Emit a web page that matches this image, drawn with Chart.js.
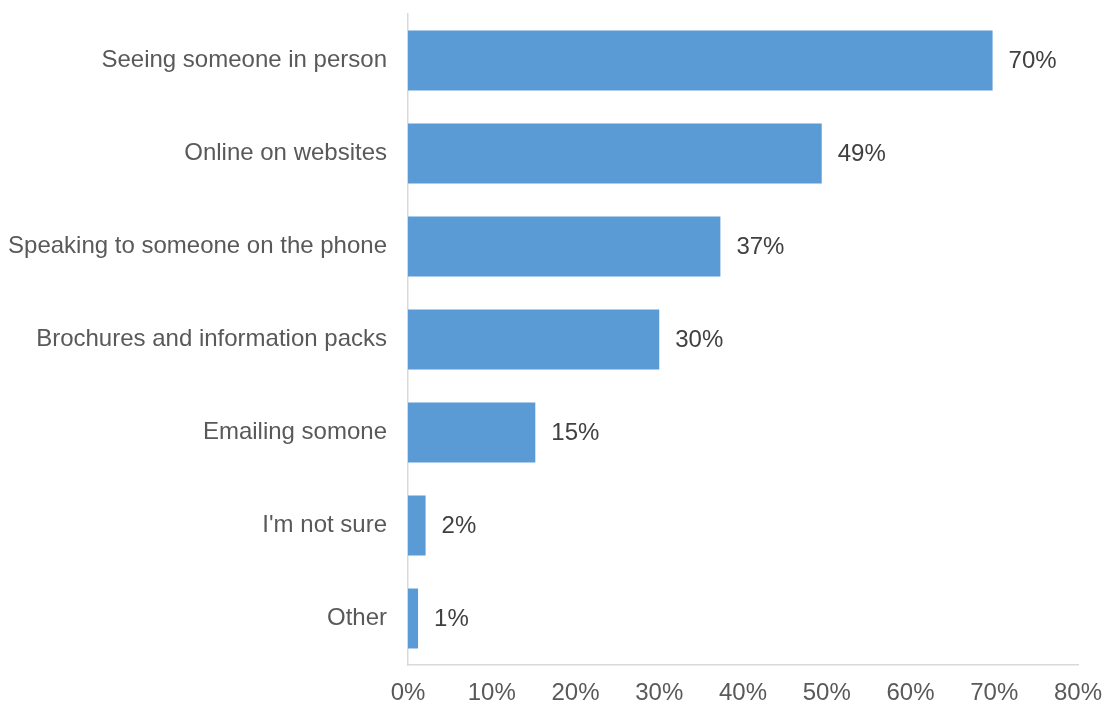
<!DOCTYPE html>
<html>
<head>
<meta charset="utf-8">
<script src="https://cdn.jsdelivr.net/npm/chart.js@4/dist/chart.umd.min.js"></script>
<style>
  body { margin: 0; background: #fff; }
  #wrap { width: 1104px; height: 704px; }
</style>
</head>
<body>
<div id="wrap"><canvas id="chart" width="1104" height="704"></canvas></div>
<script>
const categories = [
  'Seeing someone in person',
  'Online on websites',
  'Speaking to someone on the phone',
  'Brochures and information packs',
  'Emailing somone',
  "I'm not sure",
  'Other'
];
const shares = [69.8, 49.4, 37.3, 30, 15.2, 2.1, 1.2];
const shareLabels = ['70%', '49%', '37%', '30%', '15%', '2%', '1%'];
const xTicks = [0, 10, 20, 30, 40, 50, 60, 70, 80];

// draw the value label just right of each bar
const valueLabels = {
  id: 'valueLabels',
  afterDatasetsDraw(chart) {
    const ctx = chart.ctx;
    const meta = chart.getDatasetMeta(0);
    ctx.save();
    ctx.font = '24px "Liberation Sans", Arial, sans-serif';
    ctx.fillStyle = '#404040';
    ctx.textAlign = 'left';
    ctx.textBaseline = 'middle';
    meta.data.forEach((bar, i) => {
      ctx.fillText(shareLabels[i], bar.x + 16, bar.y + 1);
    });
    ctx.restore();
  }
};

Chart.defaults.font.family = '"Liberation Sans", Arial, sans-serif';
Chart.defaults.font.size = 24;
Chart.defaults.color = '#595959';

new Chart(document.getElementById('chart').getContext('2d'), {
  type: 'bar',
  data: {
    labels: categories,
    datasets: [{
      data: shares,
      backgroundColor: '#5b9bd5',
      barPercentage: 0.645,
      categoryPercentage: 1.0
    }]
  },
  options: {
    indexAxis: 'y',
    responsive: false,
    animation: false,
    layout: { padding: { top: 14, right: 26, left: 0, bottom: 0 } },
    plugins: {
      legend: { display: false },
      tooltip: { enabled: false }
    },
    scales: {
      x: {
        min: 0,
        max: 80,
        afterBuildTicks: axis => { axis.ticks = xTicks.map(v => ({ value: v })); },
        afterFit: axis => {
          axis.height = 39;
          axis.paddingLeft = 0;
          axis.paddingRight = 0;
        },
        ticks: {
          callback: v => v + '%',
          padding: 14,
          maxRotation: 0
        },
        grid: { display: false, drawTicks: false },
        border: { display: true, color: '#d9d9d9', width: 1.5 }
      },
      y: {
        afterFit: axis => {
          axis.width = 408;
          axis.paddingTop = 0;
          axis.paddingBottom = 0;
        },
        ticks: { padding: 21 },
        grid: { display: false, drawTicks: false },
        border: { display: true, color: '#d9d9d9', width: 1.5 }
      }
    }
  },
  plugins: [valueLabels]
});
</script>
</body>
</html>
